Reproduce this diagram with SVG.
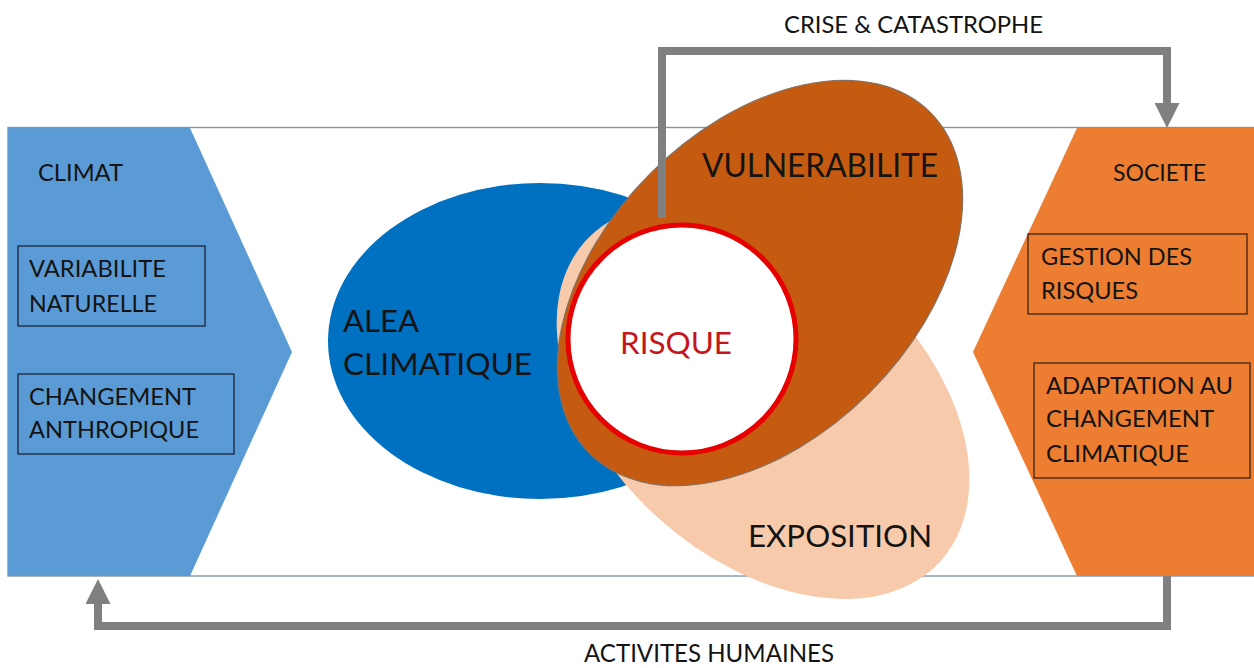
<svg xmlns="http://www.w3.org/2000/svg" width="1254" height="668" viewBox="0 0 1254 668">
  <defs>
    <style>
      text { font-family: Lato, "Open Sans", "Liberation Sans", sans-serif; fill: #141414; }
      .side { font-size: 23px; }
      .big { font-size: 31px; }
      .lbl { font-size: 23px; }
      .box { fill: none; stroke-width: 1.4; }
      .conn { fill: none; stroke: #808080; stroke-width: 8; stroke-linejoin: miter; stroke-linecap: butt; }
    </style>
    <marker id="arrow" viewBox="0 0 25 25" refX="1" refY="12.5" markerWidth="25" markerHeight="25" markerUnits="userSpaceOnUse" orient="auto">
      <path d="M0,0 L25,12.5 L0,25 Z" fill="#808080"/>
    </marker>
  </defs>

  <rect x="0" y="0" width="1254" height="668" fill="#ffffff"/>

  <g id="frame">
    <rect x="8" y="127.5" width="1250" height="448.5" fill="#ffffff" stroke="#8194aa" stroke-width="1.4"/>
  </g>

  <g id="climat">
    <polygon points="8,128 190,128 292,352 190,576 8,576" fill="#5B9BD5"/>
    <text class="side" x="38" y="181" textLength="85" lengthAdjust="spacingAndGlyphs">CLIMAT</text>
  </g>
  <g id="variabilite">
    <rect class="box" x="18" y="246" width="187" height="80" stroke="#1e2d4a"/>
    <text class="side" x="29" y="277" textLength="137" lengthAdjust="spacingAndGlyphs">VARIABILITE</text>
    <text class="side" x="29" y="312" textLength="128" lengthAdjust="spacingAndGlyphs">NATURELLE</text>
  </g>
  <g id="changement-anthropique">
    <rect class="box" x="18" y="374" width="216" height="80" stroke="#1e2d4a"/>
    <text class="side" x="29" y="405" textLength="167" lengthAdjust="spacingAndGlyphs">CHANGEMENT</text>
    <text class="side" x="29" y="438" textLength="170" lengthAdjust="spacingAndGlyphs">ANTHROPIQUE</text>
  </g>

  <g id="societe">
    <polygon points="1077,128 1254,128 1254,576 1077,576 973,352" fill="#ED7D31"/>
    <text class="side" x="1113" y="181" textLength="93" lengthAdjust="spacingAndGlyphs">SOCIETE</text>
  </g>
  <g id="gestion">
    <rect class="box" x="1028" y="234" width="219" height="80" stroke="#4a2a14"/>
    <text class="side" x="1041" y="265" textLength="151" lengthAdjust="spacingAndGlyphs">GESTION DES</text>
    <text class="side" x="1041" y="299" textLength="97" lengthAdjust="spacingAndGlyphs">RISQUES</text>
  </g>
  <g id="adaptation">
    <rect class="box" x="1034" y="363" width="216" height="115" stroke="#4a2a14"/>
    <text class="side" x="1046" y="394" textLength="187" lengthAdjust="spacingAndGlyphs">ADAPTATION AU</text>
    <text class="side" x="1046" y="427" textLength="168" lengthAdjust="spacingAndGlyphs">CHANGEMENT</text>
    <text class="side" x="1046" y="462" textLength="143" lengthAdjust="spacingAndGlyphs">CLIMATIQUE</text>
  </g>

  <g id="alea">
    <ellipse cx="540" cy="341" rx="212" ry="158" fill="#0070C0"/>
    <text class="big" x="343" y="332" textLength="76" lengthAdjust="spacingAndGlyphs">ALEA</text>
    <text class="big" x="343" y="375" textLength="189" lengthAdjust="spacingAndGlyphs">CLIMATIQUE</text>
  </g>

  <g id="exposition">
    <ellipse cx="0" cy="0" rx="239" ry="157" fill="#F7CAAB" transform="translate(763,401) rotate(42)"/>
    <text class="big" x="748" y="547" textLength="184" lengthAdjust="spacingAndGlyphs">EXPOSITION</text>
  </g>

  <g id="vulnerabilite">
    <ellipse cx="0" cy="0" rx="241" ry="155" fill="#C55A11" stroke="#86705f" stroke-width="1.2" transform="translate(760,283) rotate(-45)"/>
    <text class="big" x="702" y="177" textLength="236" lengthAdjust="spacingAndGlyphs" style="font-size:33px">VULNERABILITE</text>
  </g>

  <g id="risque">
    <circle cx="682" cy="339" r="114" fill="#ffffff" stroke="#E60000" stroke-width="5"/>
    <text class="big" x="620" y="354" textLength="112" lengthAdjust="spacingAndGlyphs" style="fill:#C4161C">RISQUE</text>
  </g>

  <g id="connectors">
    <path class="conn" d="M662,218 V51 H1167 V104" marker-end="url(#arrow)"/>
    <path class="conn" d="M1167,576 V626 H98 V603" marker-end="url(#arrow)"/>
    <text class="lbl" x="784" y="33" textLength="259" lengthAdjust="spacingAndGlyphs">CRISE &amp; CATASTROPHE</text>
    <text class="lbl" x="584" y="662" textLength="250" lengthAdjust="spacingAndGlyphs" style="font-size:25px">ACTIVITES HUMAINES</text>
  </g>
</svg>
